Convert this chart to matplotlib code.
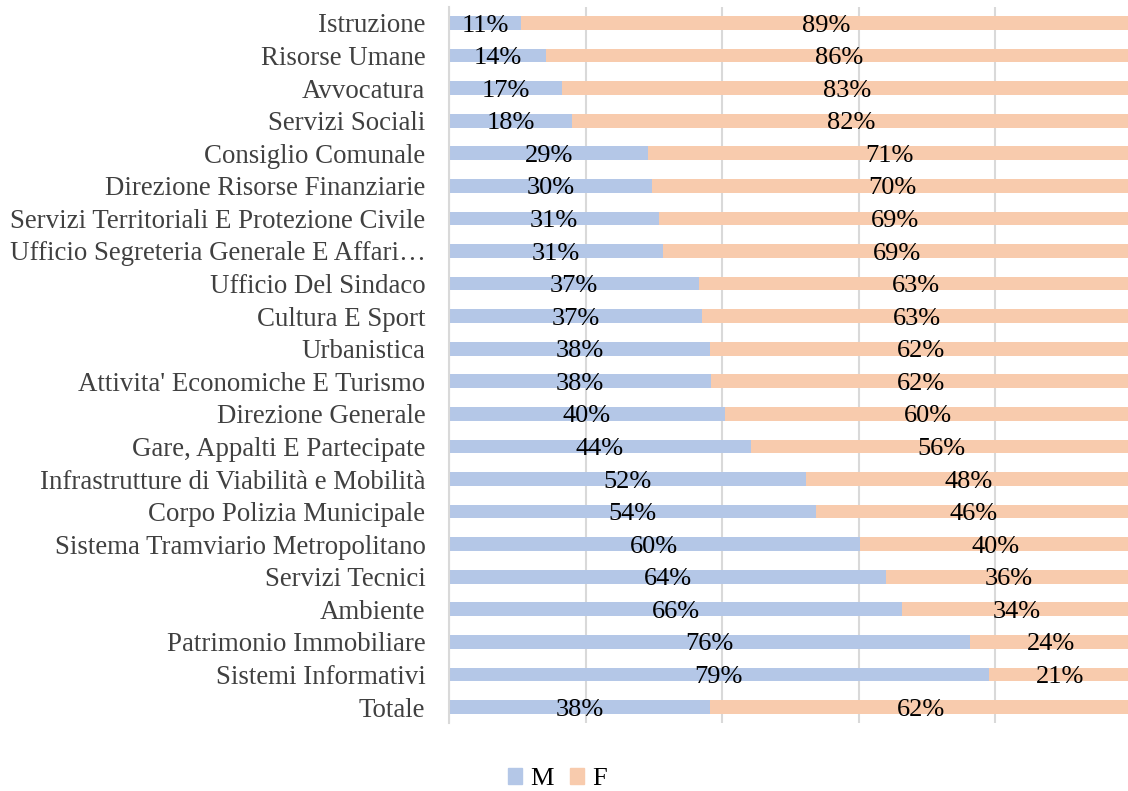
import numpy as np
import matplotlib
matplotlib.use("Agg")
import matplotlib.pyplot as plt
from matplotlib.patches import Patch

plt.rcParams['font.family'] = ['Liberation Serif', 'DejaVu Serif']

categories = ["Istruzione", "Risorse Umane", "Avvocatura", "Servizi Sociali",
              "Consiglio Comunale", "Direzione Risorse Finanziarie",
              "Servizi Territoriali E Protezione Civile",
              "Ufficio Segreteria Generale E Affari…", "Ufficio Del Sindaco",
              "Cultura E Sport", "Urbanistica", "Attivita' Economiche E Turismo",
              "Direzione Generale", "Gare, Appalti E Partecipate",
              "Infrastrutture di Viabilità e Mobilità", "Corpo Polizia Municipale",
              "Sistema Tramviario Metropolitano", "Servizi Tecnici", "Ambiente",
              "Patrimonio Immobiliare", "Sistemi Informativi", "Totale"]
m_pct = [10.6, 14.2, 16.6, 18.0, 29.2, 29.8, 30.8, 31.3, 36.7, 37.1, 38.2,
         38.4, 40.4, 44.2, 52.3, 53.8, 60.2, 64.1, 66.4, 76.4, 79.1, 38.2]
f_pct = [89.4, 85.8, 83.4, 82.0, 70.8, 70.2, 69.2, 68.7, 63.3, 62.9, 61.8,
         61.6, 59.6, 55.8, 47.7, 46.2, 39.8, 35.9, 33.6, 23.6, 20.9, 61.8]

c_m = "#B4C7E7"
c_f = "#F8CBAD"
fs = 19

fig = plt.figure(figsize=(11.28, 7.91), dpi=100)
ax = fig.add_axes([449/1128, 1-723.3/791, 682.5/1128, (723.3-6.7)/791])

y = np.arange(len(categories))
m = np.array(m_pct)
f = np.array(f_pct)
ax.barh(y, m, height=0.42, color=c_m, zorder=2)
ax.barh(y, f, left=m, height=0.42, color=c_f, zorder=2)

for yi, mv, fv in zip(y, m, f):
    ax.text(mv/2, yi+0.08, f"{round(mv)}%", ha='center', va='center', fontsize=fs, color='black', zorder=3)
    ax.text(mv+fv/2, yi+0.08, f"{round(fv)}%", ha='center', va='center', fontsize=fs, color='black', zorder=3)

ax.set_xlim(0, 100)
ax.set_ylim(len(categories)-0.5, -0.5)
ax.set_xticks([0, 20, 40, 60, 80, 100])
ax.set_xticklabels([])
ax.grid(axis='x', color='#D9D9D9', linewidth=1.5, zorder=0)
ax.set_yticks(y)
ax.set_yticklabels(categories, fontsize=19.4, color='#404040')
ax.tick_params(length=0, pad=17)
for s in ['top', 'right', 'bottom']:
    ax.spines[s].set_visible(False)
ax.spines['left'].set_color('#D9D9D9')
ax.spines['left'].set_linewidth(1.5)

handles = [Patch(color=c_m, label='M'), Patch(color=c_f, label='F')]
fig.legend(handles=handles, loc='lower center', bbox_to_anchor=(0.494, -0.029), ncol=2,
           frameon=False, fontsize=fs, handlelength=0.55, handleheight=0.55,
           handletextpad=0.3, columnspacing=0.6)

fig.savefig("out.png", dpi=100)
